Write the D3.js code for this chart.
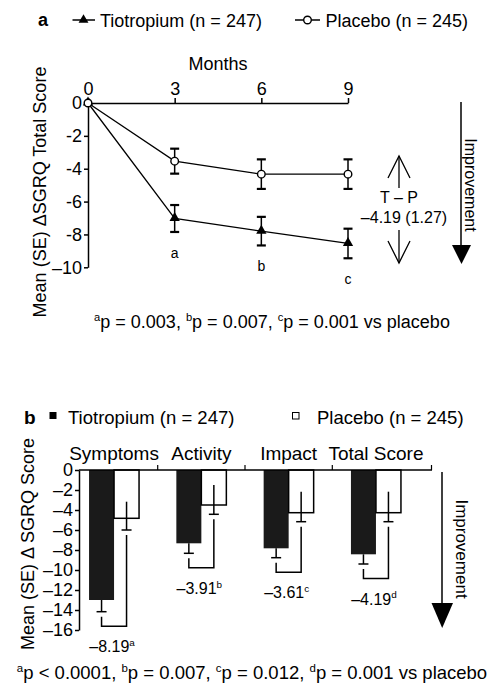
<!DOCTYPE html>
<html><head><meta charset="utf-8">
<script src="https://cdn.jsdelivr.net/npm/d3@7"></script>
<style>body{margin:0;background:#fff} text{font-family:"Liberation Sans",Arial,sans-serif;fill:#000}</style>
</head><body><svg id="c" width="494" height="695"></svg>
<script>
// ---------- Panel a data ----------
const months = [0, 3, 6, 9];
const tioMean = [0, -7.03, -7.8, -8.55];
const tioSE = [0, 0.82, 0.87, 0.9];
const plaMean = [0, -3.54, -4.33, -4.33];
const plaSE = [0, 0.76, 0.9, 0.9];
const sigLetters = ["", "a", "b", "c"];
const aYTicks = [0, -2, -4, -6, -8, -10];
const aYTickLabels = ["0", "-2", "-4", "-6", "-8", "–10"];
// ---------- Panel b data ----------
const domains = ["Symptoms", "Activity", "Impact", "Total Score"];
const tioB = [-13.0, -7.33, -7.83, -8.43];
const tioBSE = [1.17, 1.0, 0.94, 0.97];
const plaB = [-4.83, -3.5, -4.27, -4.27];
const plaBSE = [1.17, 0.93, 0.9, 0.9];
const plaBUpper = [-3.17, -1.5, -2.17, -2.17];
const diffB = ["–8.19", "–3.91", "–3.61", "–4.19"];
const diffSup = ["a", "b", "c", "d"];
const bYTicks = [0, -2, -4, -6, -8, -10, -12, -14, -16];

const svg = d3.select("#c");
const F = '"Liberation Sans",Arial,sans-serif';

function supText(g, x, y, size, parts, anchor) {
  const t = g.append("text").attr("x", x).attr("y", y).attr("font-size", size).attr("text-anchor", anchor || "start");
  parts.forEach(p => {
    if (p.sup) t.append("tspan").attr("font-size", size * 0.62).attr("dy", -size * 0.38).text(p.sup);
    if (p.t) t.append("tspan").attr("dy", p.sup ? size * 0.38 : 0).text(p.t);
  });
  return t;
}

// ================= PANEL A =================
const ga = svg.append("g");
const xa = d3.scaleLinear().domain([0, 9]).range([88, 348]);
const ya = d3.scaleLinear().domain([0, -10]).range([103, 267.3]);

// legend
ga.append("text").attr("x", 38).attr("y", 26).attr("font-size", 18).attr("font-weight", "bold").text("a");
ga.append("line").attr("x1", 72.5).attr("x2", 95).attr("y1", 20).attr("y2", 20).attr("stroke", "#000").attr("stroke-width", 1.5);
ga.append("path").attr("d", d3.symbol(d3.symbolTriangle, 42)()).attr("transform", "translate(83.5,20)").attr("fill", "#000");
ga.append("text").attr("x", 100).attr("y", 26.5).attr("font-size", 18).text("Tiotropium (n = 247)");
ga.append("line").attr("x1", 295).attr("x2", 320).attr("y1", 20).attr("y2", 20).attr("stroke", "#000").attr("stroke-width", 1.5);
ga.append("circle").attr("cx", 307.5).attr("cy", 20).attr("r", 3.8).attr("fill", "#fff").attr("stroke", "#000").attr("stroke-width", 1.4);
ga.append("text").attr("x", 325.5).attr("y", 26.5).attr("font-size", 18).text("Placebo (n = 245)");

// top axis
const axTop = d3.axisTop(xa).tickValues(months).tickSize(5).tickSizeOuter(0).tickPadding(3).tickFormat(d3.format("d"));
const gTop = ga.append("g").attr("transform", `translate(0,${ya(0)})`).call(axTop);
gTop.selectAll("text").attr("font-size", 18).attr("font-family", F);
gTop.selectAll("path,line").attr("stroke-width", 1.5);
ga.append("text").attr("x", 218).attr("y", 70).attr("text-anchor", "middle").attr("font-size", 18).text("Months");

// left axis
const axLeft = d3.axisLeft(ya).tickValues(aYTicks).tickSize(4).tickSizeOuter(0).tickPadding(2)
  .tickFormat((d, i) => aYTickLabels[i]);
const gLeft = ga.append("g").attr("transform", `translate(${xa(0)},0)`).call(axLeft);
gLeft.selectAll("text").attr("font-size", 18).attr("font-family", F);
gLeft.selectAll("path,line").attr("stroke-width", 1.5);

ga.append("text").attr("transform", "translate(46,192) rotate(-90)").attr("text-anchor", "middle")
  .attr("font-size", 18).text("Mean (SE) ΔSGRQ Total Score");

// series
function drawSeries(mean, se, kind) {
  const pts = months.map((m, i) => [xa(m), ya(mean[i])]);
  ga.append("path").attr("d", d3.line()(pts)).attr("fill", "none").attr("stroke", "#000").attr("stroke-width", 1.3);
  months.forEach((m, i) => {
    if (se[i] > 0) {
      const x = xa(m), y1 = ya(mean[i] + se[i]), y2 = ya(mean[i] - se[i]);
      ga.append("line").attr("x1", x).attr("x2", x).attr("y1", y1).attr("y2", y2).attr("stroke", "#000").attr("stroke-width", 1.5);
      [y1, y2].forEach(y => ga.append("line").attr("x1", x - 4.5).attr("x2", x + 4.5).attr("y1", y).attr("y2", y).attr("stroke", "#000").attr("stroke-width", 2.2));
    }
  });
  months.forEach((m, i) => {
    if (kind === "tri") {
      ga.append("path").attr("d", d3.symbol(d3.symbolTriangle, 46)()).attr("transform", `translate(${xa(m)},${ya(mean[i]) - 0.5})`).attr("fill", "#000");
    } else {
      ga.append("circle").attr("cx", xa(m)).attr("cy", ya(mean[i])).attr("r", 3.8).attr("fill", "#fff").attr("stroke", "#000").attr("stroke-width", 1.4);
    }
  });
}
drawSeries(tioMean, tioSE, "tri");
drawSeries(plaMean, plaSE, "circ");

// significance letters
months.forEach((m, i) => {
  if (sigLetters[i]) ga.append("text").attr("x", xa(m)).attr("y", ya(tioMean[i] - tioSE[i]) + 26)
    .attr("text-anchor", "middle").attr("font-size", 14).text(sigLetters[i]);
});

// T-P annotation
const ax = 399;
ga.append("line").attr("x1", ax).attr("x2", ax).attr("y1", 156).attr("y2", 188).attr("stroke", "#000").attr("stroke-width", 1.3);
ga.append("path").attr("d", `M${ax - 11},178 L${ax},156 L${ax + 11},178`).attr("fill", "none").attr("stroke", "#000").attr("stroke-width", 1.3);
ga.append("line").attr("x1", ax).attr("x2", ax).attr("y1", 230).attr("y2", 263).attr("stroke", "#000").attr("stroke-width", 1.3);
ga.append("path").attr("d", `M${ax - 11},241 L${ax},263 L${ax + 11},241`).attr("fill", "none").attr("stroke", "#000").attr("stroke-width", 1.3);
ga.append("text").attr("x", 399).attr("y", 203).attr("text-anchor", "middle").attr("font-size", 16).text("T – P");
ga.append("text").attr("x", 404).attr("y", 223).attr("text-anchor", "middle").attr("font-size", 16).text("–4.19 (1.27)");

// Improvement arrow
ga.append("line").attr("x1", 461).attr("x2", 461).attr("y1", 102).attr("y2", 246).attr("stroke", "#000").attr("stroke-width", 1.5);
ga.append("path").attr("d", "M452,245 L471,245 L461.5,264 Z").attr("fill", "#000");
ga.append("text").attr("transform", "translate(470,185) rotate(90)").attr("text-anchor", "middle").attr("dominant-baseline", "central")
  .attr("font-size", 16).text("Improvement");

// footnote
supText(ga, 272, 328, 18, [{sup: "a", t: "p = 0.003, "}, {sup: "b", t: "p = 0.007, "}, {sup: "c", t: "p = 0.001 vs placebo"}], "middle");

// ================= PANEL B =================
const gb = svg.append("g");
const xb = d3.scaleBand().domain(domains).range([70.4, 419.6]).padding(0);
const yb = d3.scaleLinear().domain([0, -16]).range([470, 630]);
const barW = 25;

// legend
gb.append("text").attr("x", 24).attr("y", 424).attr("font-size", 19).attr("font-weight", "bold").text("b");
gb.append("rect").attr("x", 49.5).attr("y", 412).attr("width", 7).attr("height", 7).attr("fill", "#000");
gb.append("text").attr("x", 68).attr("y", 424).attr("font-size", 18.5).text("Tiotropium (n = 247)");
gb.append("rect").attr("x", 292.5).attr("y", 412.5).attr("width", 6.5).attr("height", 6.5).attr("fill", "#fff").attr("stroke", "#000").attr("stroke-width", 1);
gb.append("text").attr("x", 317).attr("y", 424).attr("font-size", 18.5).text("Placebo (n = 245)");

// category labels
domains.forEach(d => gb.append("text").attr("x", xb(d) + xb.bandwidth() / 2).attr("y", 459.5)
  .attr("text-anchor", "middle").attr("font-size", 19).text(d));

// bars
domains.forEach((d, i) => {
  const c = xb(d) + xb.bandwidth() / 2;
  gb.append("rect").attr("x", c - barW).attr("y", yb(0)).attr("width", barW).attr("height", yb(tioB[i]) - yb(0)).attr("fill", "#1a1a1a");
  gb.append("rect").attr("x", c).attr("y", yb(0)).attr("width", barW).attr("height", yb(plaB[i]) - yb(0))
    .attr("fill", "#fff").attr("stroke", "#000").attr("stroke-width", 1.5);
  const tx = c - barW / 2, px = c + barW / 2;
  const tCap = yb(tioB[i] - tioBSE[i]), pCap = yb(plaB[i] - plaBSE[i]);
  // tiotropium error
  gb.append("line").attr("x1", tx).attr("x2", tx).attr("y1", yb(tioB[i])).attr("y2", tCap).attr("stroke", "#000").attr("stroke-width", 1.5);
  gb.append("line").attr("x1", tx - 5).attr("x2", tx + 5).attr("y1", tCap).attr("y2", tCap).attr("stroke", "#000").attr("stroke-width", 1.5);
  // placebo error
  gb.append("line").attr("x1", px).attr("x2", px).attr("y1", yb(plaBUpper[i])).attr("y2", pCap).attr("stroke", "#000").attr("stroke-width", 1.5);
  gb.append("line").attr("x1", px - 5).attr("x2", px + 5).attr("y1", pCap).attr("y2", pCap).attr("stroke", "#000").attr("stroke-width", 1.5);
  // bracket
  const bb = tCap + 14.5;
  gb.append("path").attr("d", `M${tx},${tCap + 5} L${tx},${bb} L${px},${bb} L${px},${pCap + 5}`)
    .attr("fill", "none").attr("stroke", "#000").attr("stroke-width", 1.5);
  supText(gb, c - 2, bb + 26, 16, [{t: diffB[i]}, {sup: diffSup[i]}], "middle");
});

// axes
const gbx = gb.append("g");
gbx.append("line").attr("x1", 79).attr("x2", 432).attr("y1", yb(0)).attr("y2", yb(0)).attr("stroke", "#000").attr("stroke-width", 1.5);
domains.slice(1).forEach(d => gbx.append("line").attr("x1", xb(d)).attr("x2", xb(d)).attr("y1", yb(0)).attr("y2", yb(0) - 5).attr("stroke", "#000").attr("stroke-width", 1.2));
gbx.append("line").attr("x1", 431.5).attr("x2", 431.5).attr("y1", yb(0)).attr("y2", yb(0) - 5).attr("stroke", "#000").attr("stroke-width", 1.2);

const axLB = d3.axisLeft(yb).tickValues(bYTicks).tickSize(4).tickSizeOuter(0).tickPadding(2)
  .tickFormat(d => d === 0 ? "0" : "–" + Math.abs(d));
const gbl = gb.append("g").attr("transform", "translate(79,0)").call(axLB);
gbl.selectAll("text").attr("font-size", 18).attr("font-family", F);
gbl.selectAll("path,line").attr("stroke-width", 1.5);

gb.append("text").attr("transform", "translate(34,544) rotate(-90)").attr("text-anchor", "middle")
  .attr("font-size", 18).text("Mean (SE) Δ SGRQ Score");

// Improvement arrow
gb.append("line").attr("x1", 442).attr("x2", 442).attr("y1", 472).attr("y2", 604).attr("stroke", "#000").attr("stroke-width", 1.5);
gb.append("path").attr("d", "M431.5,603 L453,603 L442.2,628 Z").attr("fill", "#000");
gb.append("text").attr("transform", "translate(461.5,549) rotate(90)").attr("text-anchor", "middle").attr("dominant-baseline", "central")
  .attr("font-size", 17).text("Improvement");

// footnote
supText(gb, 252, 679, 18.5, [{sup: "a", t: "p < 0.0001, "}, {sup: "b", t: "p = 0.007, "}, {sup: "c", t: "p = 0.012, "}, {sup: "d", t: "p = 0.001 vs placebo"}], "middle");
</script></body></html>
